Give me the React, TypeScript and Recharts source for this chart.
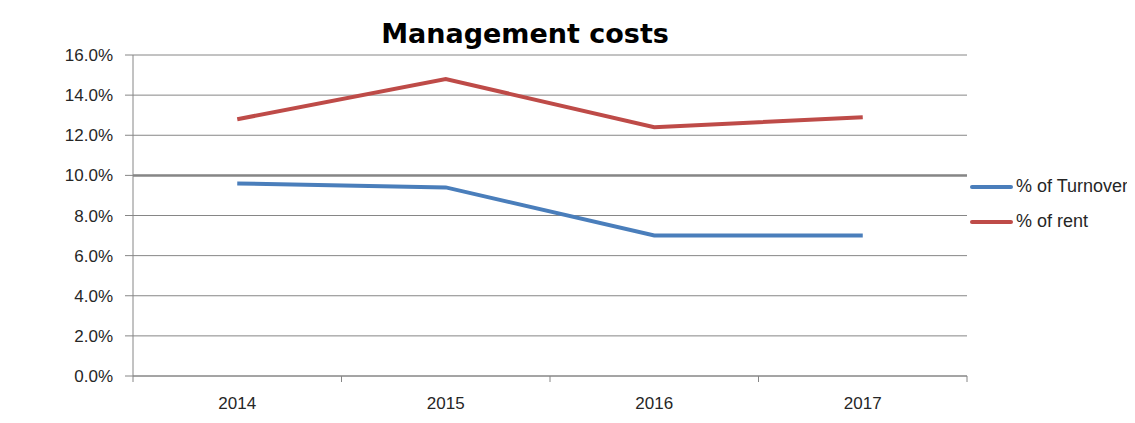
import React from 'react';
import { LineChart, Line, XAxis, YAxis, CartesianGrid, ReferenceLine } from 'recharts';

const categories = ['2014', '2015', '2016', '2017'];
const turnoverPct = [0.096, 0.094, 0.07, 0.07];
const rentPct = [0.128, 0.148, 0.124, 0.129];
const yTicks = [0, 0.02, 0.04, 0.06, 0.08, 0.1, 0.12, 0.14, 0.16];
const seriesNames = ['% of Turnover', '% of rent'];
const seriesColors = ['#4A7EBB', '#BE4B48'];
const title = 'Management costs';

const data = categories.map((c, i) => ({ year: c, turnover: turnoverPct[i], rent: rentPct[i] }));

const GRID = '#868686';
const FONT = '"Liberation Sans", Arial, sans-serif';

const XTick = (props: any) => {
  const { x, y, payload, index, visibleTicksCount } = props;
  const half = payload && typeof payload.offset === 'number' ? payload.offset : 0;
  const axisY = y - 6;
  const last = index === (visibleTicksCount ?? categories.length) - 1;
  return (
    <g>
      <line x1={x - half} y1={axisY} x2={x - half} y2={axisY + 6} stroke={GRID} strokeWidth={1} />
      {last && <line x1={x + half} y1={axisY} x2={x + half} y2={axisY + 6} stroke={GRID} strokeWidth={1} />}
      <text x={x} y={axisY + 33} textAnchor="middle" fill="#262626" fontSize={17} fontFamily={FONT}>
        {payload.value}
      </text>
    </g>
  );
};

export default function App() {
  return (
    <div style={{ position: 'relative', width: 1135, height: 423, margin: -8, overflow: 'hidden', background: '#fff' }}>
      <div
        style={{
          position: 'absolute',
          left: 5,
          top: 5,
          width: 1200,
          height: 500,
          borderTop: '2px solid #888',
          borderLeft: '2px solid #888',
        }}
      />
      <div
        style={{
          position: 'absolute',
          left: 0,
          width: 1050,
          top: 14,
          height: 40,
          lineHeight: '40px',
          textAlign: 'center',
          fontFamily: '"DejaVu Sans", sans-serif',
          fontWeight: 'bold',
          fontSize: 27,
          color: '#000',
        }}
      >
        {title}
      </div>
      <div style={{ position: 'absolute', left: 0, top: 0 }}>
        <LineChart width={1135} height={423} data={data} margin={{ top: 55, right: 168, bottom: 7, left: 53 }}>
          <CartesianGrid vertical={false} stroke={GRID} strokeWidth={1} />
          <ReferenceLine y={0.1} stroke={GRID} strokeWidth={2.5} />
          <XAxis
            dataKey="year"
            scale="band"
            height={40}
            axisLine={{ stroke: GRID, strokeWidth: 1 }}
            tickLine={false}
            tickSize={6}
            tickMargin={0}
            tick={<XTick />}
            interval={0}
          />
          <YAxis
            width={80}
            domain={[0, 0.16]}
            ticks={yTicks}
            interval={0}
            axisLine={{ stroke: GRID, strokeWidth: 1 }}
            tickLine={{ stroke: GRID }}
            tickSize={8}
            tickMargin={12}
            tickFormatter={(v: number) => (v * 100).toFixed(1) + '%'}
            tick={{ fill: '#262626', fontSize: 17, fontFamily: FONT }}
          />
          <Line
            name={seriesNames[0]}
            dataKey="turnover"
            stroke={seriesColors[0]}
            strokeWidth={4}
            dot={false}
            activeDot={false}
            isAnimationActive={false}
          />
          <Line
            name={seriesNames[1]}
            dataKey="rent"
            stroke={seriesColors[1]}
            strokeWidth={4}
            dot={false}
            activeDot={false}
            isAnimationActive={false}
          />
        </LineChart>
      </div>
      <div style={{ position: 'absolute', left: 970, top: 169, fontFamily: FONT }}>
        {seriesNames.map((name, i) => (
          <div key={name} style={{ display: 'flex', alignItems: 'center', height: 35 }}>
            <div style={{ width: 43, height: 4, background: seriesColors[i], borderRadius: 2, marginRight: 3 }} />
            <span style={{ fontSize: 18, color: '#262626', whiteSpace: 'nowrap' }}>{name}</span>
          </div>
        ))}
      </div>
    </div>
  );
}
